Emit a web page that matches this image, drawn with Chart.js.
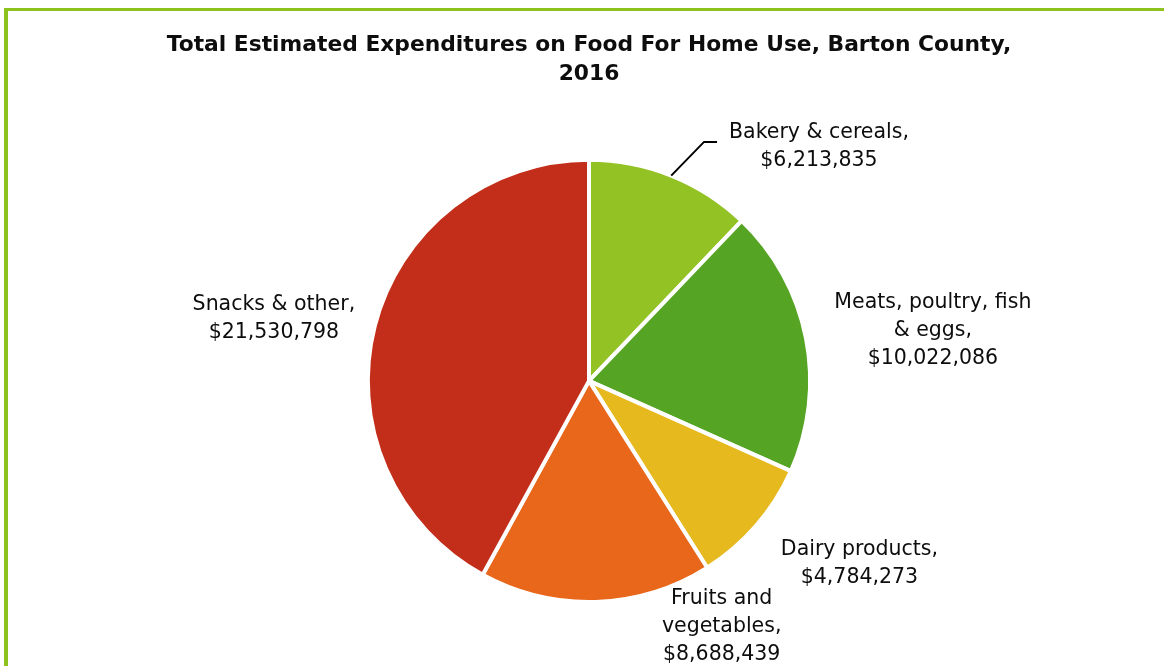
<!DOCTYPE html>
<html>
<head>
<meta charset="utf-8">
<script src="https://cdn.jsdelivr.net/npm/chart.js@4.4.1/dist/chart.umd.min.js"></script>
<style>
  html, body { margin: 0; padding: 0; background: #fff; overflow: hidden; }
  #frame {
    position: absolute; left: 4px; top: 8px; width: 1200px; height: 700px;
    border-left: 4px solid #8dc21f; border-top: 3px solid #8dc21f;
  }
  #wrap { position: absolute; left: 0; top: 0; width: 1164px; height: 666px; }
</style>
</head>
<body>
<div id="frame"></div>
<div id="wrap"><canvas id="chart"></canvas></div>
<script>
// Chart data
const categories = ['Bakery & cereals', 'Meats, poultry, fish & eggs', 'Dairy products', 'Fruits and vegetables', 'Snacks & other'];
const expenditures = [6213835, 10022086, 4784273, 8688439, 21530798];
const sliceColors = ['#93c225', '#55a423', '#e6b91f', '#e8671b', '#c32e1a'];

// label text lines, as wrapped in the original
const labelLines = [
  ['Bakery & cereals,'],
  ['Meats, poultry, fish', '& eggs,'],
  ['Dairy products,'],
  ['Fruits and', 'vegetables,'],
  ['Snacks & other,']
];

const fmt = v => '$' + v.toLocaleString('en-US');

// label centres, in units of the pie radius from the pie centre
const labelPlacement = [
  { dx: 1.04, dy: -1.058, leader: true },
  { dx: 1.555, dy: -0.225 },
  { dx: 1.223, dy: 0.827 },
  { dx: 0.6, dy: 1.11 },
  { dx: -1.425, dy: -0.283 }
];

const outsideLabels = {
  id: 'outsideLabels',
  afterDatasetsDraw(chart) {
    const ctx = chart.ctx;
    const meta = chart.getDatasetMeta(0);
    const lh = 28;
    ctx.save();
    ctx.font = '20.5px "DejaVu Sans", sans-serif';
    ctx.fillStyle = '#0d0d0d';
    ctx.textAlign = 'center';
    ctx.textBaseline = 'middle';
    meta.data.forEach((arc, i) => {
      const r = arc.outerRadius;
      const p = labelPlacement[i];
      const cx = arc.x + p.dx * r;
      const cy = arc.y + p.dy * r;
      const lines = labelLines[i].concat([fmt(expenditures[i])]);
      const top = cy - (lines.length - 1) * lh / 2;
      lines.forEach((t, k) => ctx.fillText(t, cx, top + k * lh));

      if (p.leader) {
        // leader line from the slice edge to the label
        const mid = (arc.startAngle + arc.endAngle) / 2;
        const x0 = arc.x + Math.cos(mid) * r;
        const y0 = arc.y + Math.sin(mid) * r;
        const w = ctx.measureText(lines[0]).width;
        const xEnd = cx - w / 2 - 12;
        const yEnd = top + 9;
        ctx.beginPath();
        ctx.strokeStyle = '#000';
        ctx.lineWidth = 2;
        ctx.moveTo(x0, y0);
        ctx.lineTo(xEnd - 13, yEnd);
        ctx.lineTo(xEnd, yEnd);
        ctx.stroke();
      }
    });
    ctx.restore();
  }
};

new Chart(document.getElementById('chart').getContext('2d'), {
  type: 'pie',
  data: {
    labels: categories,
    datasets: [{
      data: expenditures,
      backgroundColor: sliceColors,
      borderColor: '#ffffff',
      borderWidth: 4
    }]
  },
  options: {
    responsive: true,
    maintainAspectRatio: false,
    animation: false,
    layout: {
      padding: { left: 14, right: 0, top: 0, bottom: 62 }
    },
    plugins: {
      legend: { display: false },
      tooltip: { enabled: false },
      title: {
        display: true,
        text: ['Total Estimated Expenditures on Food For Home Use, Barton County,', '2016'],
        color: '#0d0d0d',
        font: { family: '"DejaVu Sans", sans-serif', size: 21.8, weight: 'bold', lineHeight: 1.37 },
        padding: { top: 30, bottom: 68 }
      }
    }
  },
  plugins: [outsideLabels]
});
</script>
</body>
</html>
